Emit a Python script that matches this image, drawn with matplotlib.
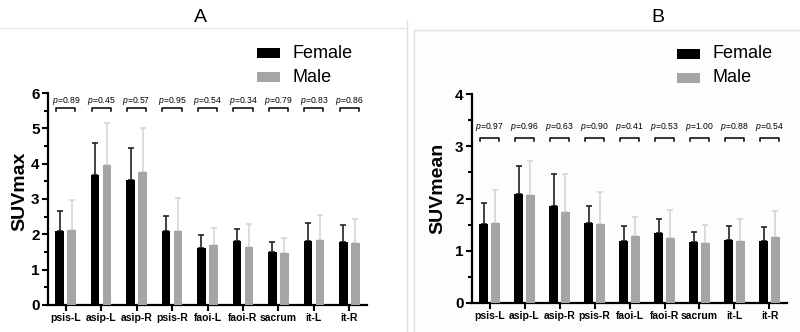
import numpy as np
import matplotlib
matplotlib.use("Agg")
import matplotlib.pyplot as plt
from matplotlib.lines import Line2D
from matplotlib.patches import Rectangle

plt.rcParams.update({
    "font.family": ["Liberation Sans", "DejaVu Sans"],
    "mathtext.fontset": "custom",
    "mathtext.it": "Liberation Sans:italic",
    "mathtext.rm": "Liberation Sans",
})

# ── 資料 ──
regions = ["psis-L", "asip-L", "asip-R", "psis-R", "faoi-L", "faoi-R", "sacrum", "it-L", "it-R"]

max_female = [2.10, 3.68, 3.55, 2.09, 1.60, 1.82, 1.50, 1.80, 1.78]
max_female_sd = [0.55, 0.90, 0.88, 0.44, 0.37, 0.32, 0.29, 0.52, 0.48]
max_male = [2.13, 3.97, 3.76, 2.10, 1.70, 1.65, 1.47, 1.85, 1.75]
max_male_sd = [0.85, 1.18, 1.24, 0.94, 0.48, 0.63, 0.42, 0.71, 0.69]
max_p = ["0.89", "0.45", "0.57", "0.95", "0.54", "0.34", "0.79", "0.83", "0.86"]

mean_female = [1.52, 2.08, 1.86, 1.54, 1.19, 1.34, 1.16, 1.21, 1.19]
mean_female_sd = [0.40, 0.54, 0.60, 0.32, 0.29, 0.27, 0.19, 0.27, 0.26]
mean_male = [1.54, 2.07, 1.75, 1.52, 1.29, 1.25, 1.15, 1.19, 1.27]
mean_male_sd = [0.62, 0.65, 0.71, 0.61, 0.36, 0.53, 0.35, 0.42, 0.49]
mean_p = ["0.97", "0.96", "0.63", "0.90", "0.41", "0.53", "1.00", "0.88", "0.54"]

BLACK = "#000000"
GREY = "#a5a5a5"
W, H = 800, 332

fig = plt.figure(figsize=(8, 3.32), dpi=100)

# ── 背景框線 ──
fig.add_artist(Line2D([0, 405 / W], [1 - 28 / H] * 2, color="#e6e6e6", lw=1))
fig.add_artist(Line2D([407 / W] * 2, [0, 1 - 20 / H], color="#e0e0e0", lw=1))
fig.add_artist(Rectangle((414 / W, -0.01), 1, 1 - 30 / H + 0.01, facecolor="#fdfdfd",
                         edgecolor="#e2e2e2", lw=1, zorder=0))


def panel(rect, fem, fem_sd, mal, mal_sd, pvals, ymax, ylabel, p_text_y, p_br_y, br_tick,
          label_xy):
    ax = fig.add_axes(rect)
    ax.patch.set_alpha(0)
    x = np.arange(len(regions))
    off, bw = 0.17, 0.24
    ax.bar(x - off, fem, bw, color=BLACK, zorder=3)
    ax.bar(x + off, mal, bw, color=GREY, zorder=3)
    ax.errorbar(x - off, fem, yerr=[np.zeros(len(fem)), fem_sd], fmt="none",
                ecolor="#222222", elinewidth=1.2, capsize=2, capthick=1.2, zorder=2)
    ax.errorbar(x + off, mal, yerr=[np.zeros(len(mal)), mal_sd], fmt="none",
                ecolor="#d6d6d6", elinewidth=1.2, capsize=2, capthick=1.2, zorder=2)

    for xi, p in zip(x, pvals):
        ax.text(xi, p_text_y, f"$p$=" + p, ha="center", va="center", fontsize=6.2)
        ax.plot([xi - off - 0.1, xi - off - 0.1, xi + off + 0.1, xi + off + 0.1],
                [p_br_y - br_tick, p_br_y, p_br_y, p_br_y - br_tick], color="black", lw=1.1)

    ax.set_xlim(-0.5, 8.5)
    ax.set_ylim(0, ymax)
    ax.set_xticks(x)
    ax.set_xticklabels(regions, fontsize=7.5, fontweight="bold")
    ax.set_yticks(np.arange(0, ymax + 1))
    ax.set_yticks(np.arange(0.5, ymax, 1), minor=True)
    for lab in ax.get_yticklabels():
        lab.set_fontweight("bold")
        lab.set_fontsize(11)
    ax.tick_params(axis="both", which="major", width=1.5, length=4, pad=2)
    ax.tick_params(axis="y", which="minor", width=1.5, length=3)
    ax.set_ylabel(ylabel, fontsize=14, fontweight="bold")
    ax.yaxis.set_label_coords(*label_xy)
    for s in ["top", "right"]:
        ax.spines[s].set_visible(False)
    for s in ["left", "bottom"]:
        ax.spines[s].set_linewidth(1.6)
    return ax


axA = panel([48 / W, 1 - 305 / H, 319 / W, 212 / H], max_female, max_female_sd,
            max_male, max_male_sd, max_p, 6, "SUVmax", 5.78, 5.58, 0.08, (-0.06, 0.535))
axB = panel([472 / W, 1 - 303 / H, 315 / W, 209 / H], mean_female, mean_female_sd,
            mean_male, mean_male_sd, mean_p, 4, "SUVmean", 3.36, 3.16, 0.055, (-0.08, 0.55))

fig.text(200 / W, 1 - 17 / H, "A", ha="center", va="center", fontsize=14)
fig.text(658 / W, 1 - 18 / H, "B", ha="center", va="center", fontsize=14)

# ── 圖例 ──
for lx, ly in [(257, 48), (677, 49)]:
    for i, (lab, col) in enumerate([("Female", BLACK), ("Male", GREY)]):
        y0 = ly + i * 24
        fig.add_artist(Rectangle((lx / W, 1 - (y0 + 10) / H), 23 / W, 10 / H,
                                 facecolor=col, edgecolor="none"))
        fig.text((lx + 36) / W, 1 - (y0 + 5) / H, lab, ha="left", va="center", fontsize=13)

fig.savefig("out.png", dpi=100)
